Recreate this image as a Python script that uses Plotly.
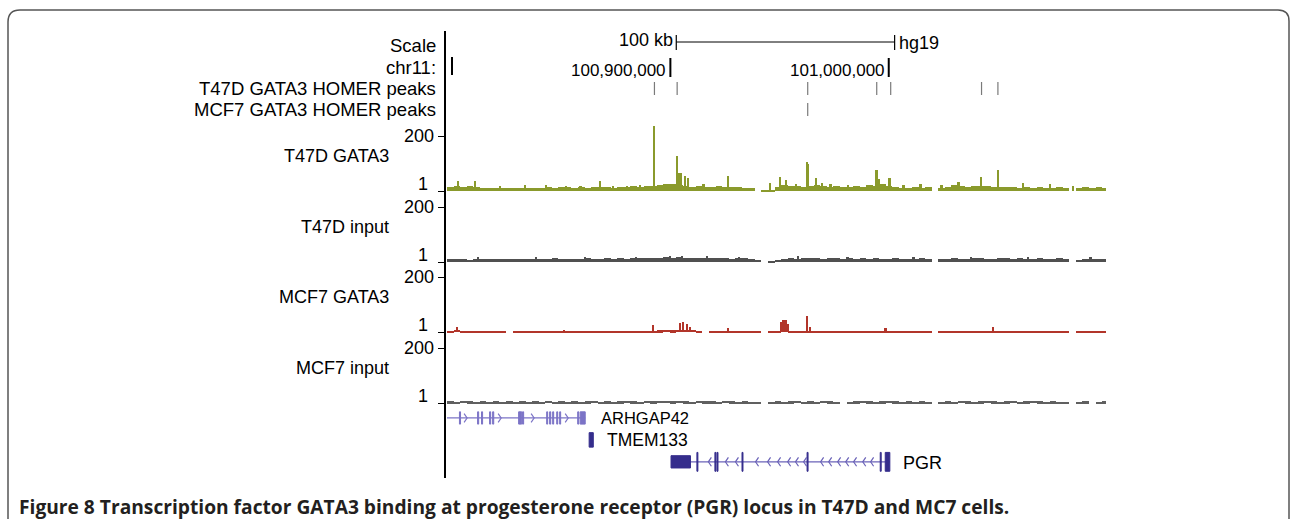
import plotly.graph_objects as go

# ---------------- data ----------------
WIN_START = 100_797_700
WIN_END = 101_099_500
BIN = 3000
SCALE_START = 100_902_700
SCALE_LEN = 100_000

chr_ticks = [100_800_000, 100_900_000, 101_000_000]
chr_tick_labels = ["", "100,900,000", "101,000,000"]

t47d_homer_peaks = [100_892_700, 100_903_100, 100_962_900, 100_994_500, 101_000_900, 101_042_500, 101_050_000]
mcf7_homer_peaks = [100_962_900]

t47d_gata3_bg = [14, 18, 14, 18,
                 14, 11, 11, 12, 11, 11, 12,
                 11, 12, 11, 11, 14, 11, 14, 14, 12, 14, 11, 14, 14, 14, 11,
                 14, 16, 18, 16, 18, 18,
                 22, 25, 25, 22,
                 18, 16, 18, 16, 14, 18, 16, 14,
                 14, 12, 12, None,
                 4, 5, 14,
                 22, 20, 18, 16, 20, 22, 18, 16, 18, 16,
                 14, 18, 16, 22, 20, 25, 18, 14,
                 12, 11, 14, 12, 14, None,
                 12, 16, 22, 18, 16, 18, 20, 18, 16, 14, 14,
                 14, 12, 14, 12, 14, 12, 11, 14, 12, None, 11, 14, 12, 14, 12]
t47d_gata3_peak_pos = [100_802_750, 100_810_550, 100_822_000, 100_833_500, 100_843_100, 100_852_300,
                       100_858_900, 100_867_900, 100_873_800, 100_880_100,
                       100_886_300, 100_892_660, 100_903_200, 100_904_100,
                       100_905_050, 100_906_900, 100_908_250, 100_915_300, 100_926_600, 100_945_900,
                       100_950_450, 100_953_200, 100_957_800, 100_962_850, 100_963_300, 100_966_950,
                       100_969_700, 100_973_400, 100_981_600,
                       100_994_500, 100_995_400, 101_000_450, 101_006_900,
                       101_014_700, 101_024_300, 101_032_100, 101_042_200, 101_050_000, 101_061_450,
                       101_073_850, 101_084_600]
t47d_gata3_peak_val = [36, 36, 20, 22, 22, 20, 18, 36, 20, 18, 22, 235, 127, 65, 65, 57, 47, 26, 54, 29,
                       50, 40, 26, 107, 100, 47, 30, 25, 24, 76, 45, 47, 22, 25, 22, 33, 50, 76, 29,
                       25, 20]

t47d_input_bg = [12, 11, 12, 10, 12, 11, 12, 11, 12, 13,
                 12, 13, 11, 12, 13, 12, 14, 12, 13, 12,
                 13, 14, 12, 13, 14, 12, 14, 13, 15, 16,
                 14, 16, 15, 18, 16, 18, 15, 17, 14, 16,
                 15, 14, 16, 13, 15, 14, 12, 8,
                 None,
                 4, 8, 12, 14, 13, 15, 14, 16, 13, 15, 14,
                 13, 14, 12, 15, 13, 14, 12, 13, 14, 12, 13, 12, 14, 12,
                 None,
                 12, 13, 14, 12, 13, 15, 14, 13, 12, 14, 15, 13, 14, 12, 13, 14, 12, 13, 14, 12,
                 None,
                 8, 12, 13, 12, 11]
t47d_input_peak_pos = [100_812_000, 100_838_500, 100_861_000, 100_884_200, 100_899_800, 100_905_500,
                       100_917_000, 100_931_400, 100_958_600, 100_981_200, 101_011_500, 101_037_800,
                       101_064_000, 101_092_500]
t47d_input_peak_val = [18, 20, 19, 21, 22, 24, 22, 20, 22, 20, 19, 21, 20, 18]

mcf7_gata3_bg = [5, 10, 6, 5, 4, 5, 4, 5, 5, None,
                 4, 5, 4, 5, 6, 5, 5, 4, 5, 4,
                 5, 4, 5, 6, 5, 5, 6, 5, 5, 6,
                 6, 5, 7, 8, 7, 10, 9, 8, 6, None,
                 5, 6, 5, 5, 6, 5, 4, 2, None, 2,
                 6, 8, 6, 6, 5, 6, 4, 5, 5, 5,
                 4, 5, 4, 5, 6, 5, 5, 5, 4, 5,
                 6, 5, 5, 6, None, 5, 4, 5, 6, 5,
                 5, 6, 5, 5, 4, 5, 5, 6, 5, 4,
                 5, 4, 5, 4, 5, None, 4, 5, 6, 5, 5]
mcf7_gata3_peak_pos = [100_802_300, 100_851_400, 100_892_200, 100_904_600, 100_906_000, 100_907_800,
                       100_909_200, 100_926_600, 100_950_900, 100_951_800, 100_952_800, 100_953_700,
                       100_962_850, 100_964_200, 100_998_600, 101_047_700]
mcf7_gata3_peak_val = [18, 10, 28, 32, 38, 30, 20, 14, 36, 44, 44, 30, 58, 20, 14, 20]

mcf7_input_bg = [7, 6, 8, 7, 6, 7, 6, 7, 6, 7,
                 6, 7, 6, 7, 6, 8, 6, 7, 6, 7,
                 6, 7, 8, 6, 7, 6, 7, 8, 7, 6,
                 8, 7, 9, 8, 7, 8, 7, 6, 8, 7,
                 7, 6, 8, 7, 6, 7, 6, 3,
                 None,
                 3, 7, 6, 7, 8, 6, 7, 6, 8, 7, 5,
                 None,
                 6, 7, 8, 7, 6, 7, 8, 7, 6, 7, 6, 7, 6,
                 None,
                 6, 7, 6, 8, 7, 6, 7, 8, 7, 6, 7, 8, 6, 7, 8, 7, 6, 7, 6, 5,
                 None,
                 6, 7, None, 6, 7]

# gene models
arhgap42_end = 100_861_000
arhgap42_exons = [(100_803_400, 100_803_900), (100_811_700, 100_812_200), (100_813_500, 100_814_000),
                  (100_817_200, 100_817_700), (100_818_600, 100_819_100), (100_830_500, 100_831_900),
                  (100_832_300, 100_832_800), (100_843_350, 100_843_800), (100_844_700, 100_845_200),
                  (100_846_100, 100_846_550), (100_847_950, 100_848_400), (100_849_300, 100_849_750),
                  (100_857_550, 100_858_050), (100_858_700, 100_861_000)]
arhgap42_arrows = [100_806_900, 100_822_500, 100_837_600, 100_853_200]

tmem133_exons = [(100_862_800, 100_864_700)]

pgr_start, pgr_end = 100_900_300, 101_000_500
pgr_utr = [(100_900_300, 100_909_200)]
pgr_exons = [(100_912_150, 100_912_600), (100_920_400, 100_920_850), (100_921_350, 100_921_800),
             (100_932_800, 100_933_250), (100_962_600, 100_963_050), (100_996_100, 100_996_550),
             (100_998_400, 101_000_500)]
pgr_arrows = [100_917_400, 100_925_200, 100_929_800, 100_939_000, 100_944_500, 100_949_100,
              100_953_700, 100_957_300, 100_961_000, 100_968_800, 100_972_500, 100_976_600,
              100_980_300, 100_983_900, 100_988_100, 100_991_700]

track_names = ["T47D GATA3", "T47D input", "MCF7 GATA3", "MCF7 input"]
track_colors = ["#8a9a2c", "#505050", "#b2352a", "#606060"]

# ---------------- layout helpers ----------------
W, H = 1290, 519
FONT = "Liberation Sans"


def px(p):
    return p / W


def py(p):
    return 1 - p / H


BP_PER_PX = (WIN_END - WIN_START) / (1106 - 447)

fig = go.Figure()

# ---- top rows (axis y, units ~ pixel rows) ----
fig.add_trace(go.Scatter(x=[SCALE_START, SCALE_START + SCALE_LEN], y=[42, 42], mode="lines",
                         line=dict(color="black", width=1), yaxis="y", hoverinfo="skip"))
sx, sy = [], []
for p in [SCALE_START, SCALE_START + SCALE_LEN]:
    sx += [p, p, None]
    sy += [35, 50, None]
fig.add_trace(go.Scatter(x=sx, y=sy, mode="lines", line=dict(color="black", width=1.2),
                         yaxis="y", hoverinfo="skip"))

cx, cy = [], []
for i, p in enumerate(chr_ticks):
    cx += [p, p, None]
    cy += [58 if i else 57, 77 if i else 75, None]
fig.add_trace(go.Scatter(x=cx, y=cy, mode="lines", line=dict(color="black", width=2),
                         yaxis="y", hoverinfo="skip"))

for peaks, (y0, y1) in [(t47d_homer_peaks, (82, 95)), (mcf7_homer_peaks, (103, 116))]:
    hx, hy = [], []
    for p in peaks:
        hx += [p, p, None]
        hy += [y0, y1, None]
    fig.add_trace(go.Scatter(x=hx, y=hy, mode="lines", line=dict(color="#7a7a7a", width=1.2),
                             yaxis="y", hoverinfo="skip"))

# ---- signal tracks ----
baselines = [191, 262, 332, 403]
bgs = [t47d_gata3_bg, t47d_input_bg, mcf7_gata3_bg, mcf7_input_bg]
peaks_all = [(t47d_gata3_peak_pos, t47d_gata3_peak_val), (t47d_input_peak_pos, t47d_input_peak_val),
             (mcf7_gata3_peak_pos, mcf7_gata3_peak_val), None]
PX_PER_UNIT = 55 / 199.0

for k in range(4):
    ya = "y%d" % (k + 2)
    bg = bgs[k]
    xs = [WIN_START + (i + 0.5) * BIN for i, v in enumerate(bg) if v is not None]
    ys = [v for v in bg if v is not None]
    fig.add_trace(go.Bar(x=xs, y=ys, width=BIN, marker=dict(color=track_colors[k], line=dict(width=0)),
                         yaxis=ya, hoverinfo="skip"))
    if peaks_all[k]:
        pp, pv = peaks_all[k]
        fig.add_trace(go.Bar(x=pp, y=pv, width=800, marker=dict(color=track_colors[k], line=dict(width=0)),
                             yaxis=ya, hoverinfo="skip"))


# ---- gene models (axis y6, row units) ----
def rects(exons, half, row):
    rx, ry = [], []
    for a, b in exons:
        rx += [a, b, b, a, a, None]
        ry += [row - half, row - half, row + half, row + half, row - half, None]
    return rx, ry


def chevrons(pos, row, direction):
    dx = 3 * BP_PER_PX
    dy = 0.2
    cxs, cys = [], []
    for p in pos:
        if direction > 0:
            cxs += [p - dx, p, p - dx, None]
        else:
            cxs += [p + dx, p, p + dx, None]
        cys += [row - dy, row, row + dy, None]
    return cxs, cys


light = "#7b73c6"
dark = "#352d8c"
mid = "#6b63b8"

# ARHGAP42 (row 0)
fig.add_trace(go.Scatter(x=[WIN_START, arhgap42_end], y=[0, 0], mode="lines",
                         line=dict(color=light, width=1.3), yaxis="y6", hoverinfo="skip"))
rx, ry = rects(arhgap42_exons, 0.28, 0)
fig.add_trace(go.Scatter(x=rx, y=ry, mode="lines", fill="toself", fillcolor=light,
                         line=dict(color=light, width=1), yaxis="y6", hoverinfo="skip"))
ax_, ay_ = chevrons(arhgap42_arrows, 0, +1)
fig.add_trace(go.Scatter(x=ax_, y=ay_, mode="lines", line=dict(color=light, width=1.2),
                         yaxis="y6", hoverinfo="skip"))

# TMEM133 (row 1)
rx, ry = rects(tmem133_exons, 0.33, 1)
fig.add_trace(go.Scatter(x=rx, y=ry, mode="lines", fill="toself", fillcolor=dark,
                         line=dict(color=dark, width=1), yaxis="y6", hoverinfo="skip"))

# PGR (row 2)
fig.add_trace(go.Scatter(x=[pgr_utr[0][1], pgr_end], y=[2, 2], mode="lines",
                         line=dict(color=mid, width=1.3), yaxis="y6", hoverinfo="skip"))
rx, ry = rects(pgr_utr, 0.28, 2)
fig.add_trace(go.Scatter(x=rx, y=ry, mode="lines", fill="toself", fillcolor=dark,
                         line=dict(color=dark, width=1), yaxis="y6", hoverinfo="skip"))
rx, ry = rects(pgr_exons, 0.43, 2)
fig.add_trace(go.Scatter(x=rx, y=ry, mode="lines", fill="toself", fillcolor=dark,
                         line=dict(color=dark, width=1), yaxis="y6", hoverinfo="skip"))
ax_, ay_ = chevrons(pgr_arrows, 2, -1)
fig.add_trace(go.Scatter(x=ax_, y=ay_, mode="lines", line=dict(color=mid, width=1.2),
                         yaxis="y6", hoverinfo="skip"))

# ---------------- axes ----------------
layout = dict(
    width=W, height=H, margin=dict(l=0, r=0, t=0, b=0),
    paper_bgcolor="white", plot_bgcolor="rgba(0,0,0,0)",
    showlegend=False, barmode="overlay", bargap=0,
    xaxis=dict(domain=[px(447), px(1106)], range=[WIN_START, WIN_END], visible=False,
               anchor="y", fixedrange=True),
    yaxis=dict(domain=[py(120), py(26)], range=[120, 26], visible=False, fixedrange=True),
    yaxis6=dict(domain=[py(475), py(407)], range=[2.6, -0.5], visible=False, anchor="x"),
)
for k, B in enumerate(baselines):
    lo = -(2 - 0.3) / PX_PER_UNIT
    hi = (69 + 0.3) / PX_PER_UNIT
    layout["yaxis%d" % (k + 2)] = dict(
        domain=[py(B + 2), py(B - 69)], range=[lo, hi], anchor="x",
        showgrid=False, zeroline=False, showline=False, showticklabels=False,
        ticks="outside", tickvals=[1, 200], ticklen=8, tickwidth=1.2, tickcolor="black")
fig.update_layout(**layout)

# ---------------- shapes ----------------
fig.add_shape(type="line", xref="paper", yref="paper", x0=px(445), x1=px(445), y0=py(31), y1=py(478),
              line=dict(color="black", width=2))
path = ("M {a},{b} L {a},{c} Q {a},{d} {e},{d} L {f},{d} Q {g},{d} {g},{h} L {g},{b}").format(
    a=px(8), b=py(519), c=py(22), d=py(10), e=px(20), f=px(1278), g=px(1289), h=py(21))
fig.add_shape(type="path", path=path, xref="paper", yref="paper", line=dict(color="#555555", width=1.5))


# ---------------- text ----------------
def ann(text, x, y, anchor="right", size=18, color="black", bold=False, family=FONT):
    fig.add_annotation(text=("<b>%s</b>" % text) if bold else text, x=px(x), y=py(y),
                       xref="paper", yref="paper", xanchor=anchor, yanchor="middle",
                       showarrow=False, font=dict(family=family, size=size, color=color),
                       borderpad=0)


ann("Scale", 437, 45, size=18.5)
ann("chr11:", 437, 68, size=18.5)
ann("T47D GATA3 HOMER peaks", 437, 88, size=18.5)
ann("MCF7 GATA3 HOMER peaks", 437, 109, size=18.5)

ann("100 kb", 674, 40, size=18)
ann("hg19", 898, 43, anchor="left", size=18)
for p, lab in zip(chr_ticks, chr_tick_labels):
    if lab:
        x_pix = 447 + (p - WIN_START) / BP_PER_PX
        ann(lab, x_pix - 3, 70, size=17)

for k, B in enumerate(baselines):
    ann(track_names[k], 390, B - 35, size=18)
    ann("200", 435, B - 55, size=18)
    ann("1", 429, B - 7, size=18)

ann("ARHGAP42", 600, 418, anchor="left", size=16.5)
ann("TMEM133", 606, 440, anchor="left", size=17.5)
ann("PGR", 902, 463, anchor="left", size=18)

fig.add_annotation(text="<b>Figure 8 Transcription factor GATA3 binding at progesterone receptor (PGR) locus in T47D and MC7 cells.</b>",
                   x=px(17), y=py(506), xref="paper", yref="paper", xanchor="left", yanchor="middle",
                   showarrow=False, font=dict(family="Open Sans", size=19.2, color="#231f20"))

fig.write_html("out.html", config={"displayModeBar": False},
               post_script="document.body.style.margin='0';document.body.style.padding='0';")
